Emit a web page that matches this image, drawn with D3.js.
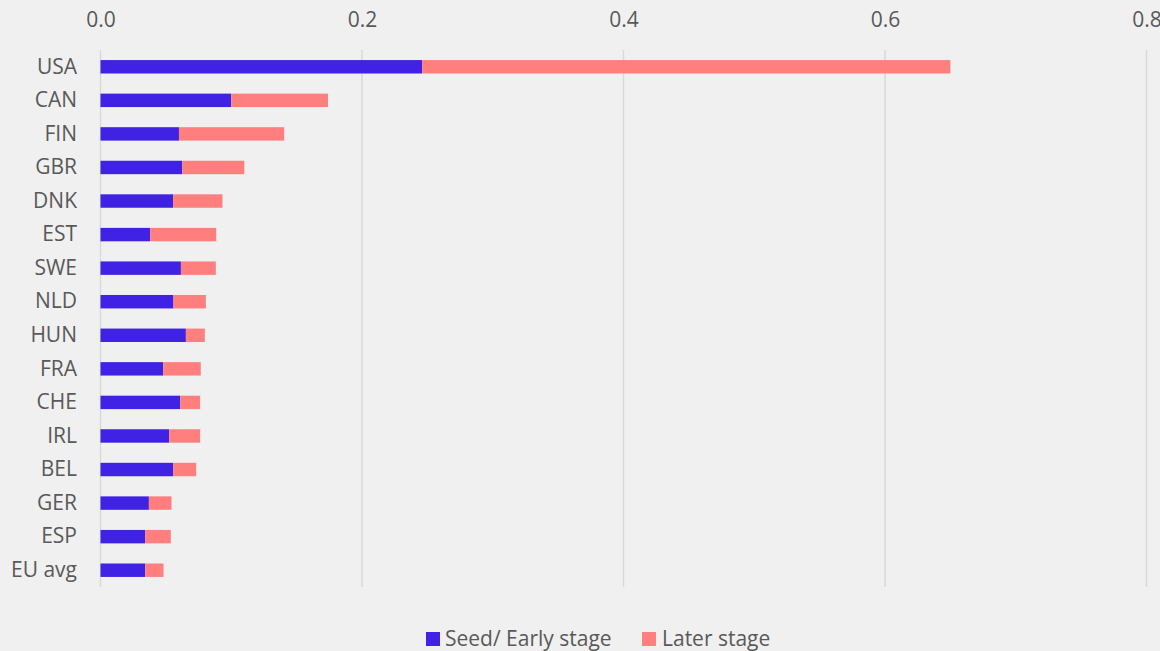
<!DOCTYPE html>
<html><head><meta charset="utf-8">
<script src="https://cdn.jsdelivr.net/npm/d3@7"></script>
<style>html,body{margin:0;padding:0;background:#f0f0f0;}svg{display:block;}</style>
</head><body>
<script>
const categories = ["USA","CAN","FIN","GBR","DNK","EST","SWE","NLD","HUN","FRA","CHE","IRL","BEL","GER","ESP","EU avg"];
const seedEarly = [0.246,0.100,0.060,0.0625,0.0555,0.038,0.0615,0.0558,0.0653,0.048,0.061,0.0525,0.0555,0.037,0.0342,0.0342];
const laterStage = [0.404,0.074,0.0805,0.0475,0.0378,0.0505,0.0267,0.0248,0.0145,0.0287,0.0152,0.0237,0.0177,0.0173,0.0196,0.014];
const xTicks = [0, 0.2, 0.4, 0.6, 0.8];
const seriesNames = ["Seed/ Early stage", "Later stage"];
const colors = ["#3f22e3", "#ff7f7e"];

const W = 1160, H = 651;
const svg = d3.select("body").append("svg").attr("width", W).attr("height", H);
svg.append("rect").attr("width", W).attr("height", H).attr("fill", "#f0f0f0");

const x = d3.scaleLinear().domain([0, 0.8]).range([100.5, 1146.5]);
const y = d3.scaleBand().domain(categories).range([50, 587]).paddingInner(0.6).paddingOuter(0.3);
const font = "'Open Sans', sans-serif";
const textColor = "#595959";
const fs = 21;

// gridlines
svg.append("g").selectAll("line").data(xTicks).join("line")
  .attr("x1", d => x(d)).attr("x2", d => x(d))
  .attr("y1", 50).attr("y2", 587)
  .attr("stroke", "#d9d9d9").attr("stroke-width", 1.5);

// top axis labels
const xAxis = d3.axisTop(x).tickValues(xTicks).tickFormat(d3.format(".1f")).tickSize(0).tickPadding(0);
const gx = svg.append("g").attr("transform", "translate(0,27)").call(xAxis);
gx.select(".domain").remove();
gx.selectAll("text").attr("font-family", font).attr("font-size", fs).attr("fill", textColor).attr("dy", 0);

// y axis labels
const yAxis = d3.axisLeft(y).tickSize(0).tickPadding(0);
const gy = svg.append("g").attr("transform", "translate(77,0)").call(yAxis);
gy.select(".domain").remove();
gy.selectAll("text").attr("font-family", font).attr("font-size", fs).attr("fill", textColor);

// stacked bars
const rows = categories.map((c, i) => ({cat: c, s: seedEarly[i], l: laterStage[i]}));
const stack = d3.stack().keys(["s", "l"])(rows);
svg.append("g").selectAll("g").data(stack).join("g")
  .attr("fill", (d, i) => colors[i])
  .selectAll("rect").data(d => d).join("rect")
  .attr("x", d => x(d[0])).attr("width", d => x(d[1]) - x(d[0]))
  .attr("y", d => y(d.data.cat)).attr("height", y.bandwidth());

// legend
const legend = svg.append("g");
const legendPos = [{sx: 426, tx: 445}, {sx: 642, tx: 662}];
seriesNames.forEach((n, i) => {
  legend.append("rect").attr("x", legendPos[i].sx).attr("y", 632).attr("width", 14).attr("height", 14).attr("fill", colors[i]);
  legend.append("text").attr("x", legendPos[i].tx).attr("y", 645.5).text(n)
    .attr("font-family", font).attr("font-size", fs).attr("fill", textColor);
});
</script>
</body></html>
